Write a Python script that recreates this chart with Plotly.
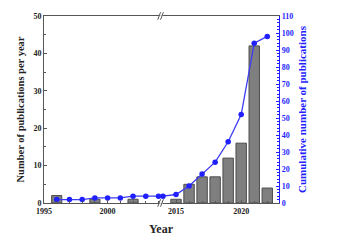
import plotly.graph_objects as go

# Data
years_early = [1996, 1999, 2002]
counts_early = [2, 1, 1]
years_late = [2015, 2016, 2017, 2018, 2019, 2020, 2021, 2022]
counts_late = [1, 5, 7, 7, 12, 16, 42, 4]
cum_years_early = [1996, 1997, 1998, 1999, 2000, 2001, 2002, 2003, 2004]
cum_early = [2, 2, 2, 3, 3, 3, 4, 4, 4]
cum_years_late = [2014, 2015, 2016, 2017, 2018, 2019, 2020, 2021, 2022]
cum_late = [4, 5, 10, 17, 24, 36, 52, 94, 98]

FONT = "Liberation Serif"
BLUE = "#1f1fff"
LINEBLUE = "#3c3cf5"
GRAY = "#7f7f7f"
SPLIT = 0.498

fig = go.Figure()
bar_style = dict(marker=dict(color=GRAY, line=dict(color="#4d4d4d", width=1)), width=0.8, showlegend=False)
fig.add_trace(go.Bar(x=years_early, y=counts_early, xaxis="x", yaxis="y", **bar_style))
fig.add_trace(go.Bar(x=years_late, y=counts_late, xaxis="x2", yaxis="y", **bar_style))
line_style = dict(mode="lines+markers", line=dict(color=LINEBLUE, width=1.3),
                  marker=dict(color=BLUE, size=5.5), showlegend=False, cliponaxis=False)
fig.add_trace(go.Scatter(x=cum_years_early, y=cum_early, xaxis="x", yaxis="y2", **line_style))
fig.add_trace(go.Scatter(x=cum_years_late, y=cum_late, xaxis="x2", yaxis="y2", **line_style))

tickfont = dict(family=FONT, size=8, color="#222222", weight="bold")
xcommon = dict(showline=True, linecolor="#555555", linewidth=1, mirror=True, ticks="inside",
               ticklen=3, tickcolor="#555555", dtick=5, showgrid=False, zeroline=False,
               tickfont=tickfont, minor=dict(dtick=1, ticks="inside", ticklen=2, tickcolor="#555555"))

fig.update_layout(
    width=359, height=241,
    margin=dict(l=44, r=80, t=12, b=38),
    paper_bgcolor="white", plot_bgcolor="white",
    bargap=0.2,
    xaxis=dict(domain=[0, SPLIT], range=[1995, 2004.2], tick0=1995, anchor="y", **xcommon),
    xaxis2=dict(domain=[SPLIT, 1], range=[2013.85, 2022.9], tick0=2015, anchor="y", **xcommon),
    yaxis=dict(range=[0, 50], dtick=10, showline=True, linecolor="#555555", linewidth=1,
               ticks="inside", ticklen=3, tickcolor="#555555", showgrid=False, zeroline=False,
               tickfont=tickfont, anchor="x",
               minor=dict(dtick=5, ticks="inside", ticklen=2, tickcolor="#555555"),
               title=dict(text="<b>Number of publications per year</b>",
                          font=dict(family=FONT, size=10.5, color="#222222"), standoff=6)),
    yaxis2=dict(range=[0, 110], dtick=10, overlaying="y", side="right", anchor="x2",
                showline=True, linecolor=BLUE, linewidth=1.2, ticks="inside", ticklen=3,
                tickcolor=BLUE, showgrid=False, zeroline=False,
                tickfont=dict(family=FONT, size=8, color=BLUE, weight="bold"),
                minor=dict(dtick=2, ticks="inside", ticklen=2, tickcolor=BLUE),
                title=dict(text="<b>Cumulative number of publications</b>",
                           font=dict(family=FONT, size=11, color=BLUE), standoff=5)),
    annotations=[dict(text="<b>Year</b>", x=0.5, y=-0.09, xref="paper", yref="paper",
                      xanchor="center", yanchor="top", showarrow=False,
                      font=dict(family=FONT, size=12, color="#222222"))],
)

# axis break marks
shapes = []
for yb in (0, 1):
    shapes.append(dict(type="rect", xref="paper", yref="paper", x0=SPLIT - 0.008, x1=SPLIT + 0.008,
                       y0=yb - 0.004, y1=yb + 0.004, fillcolor="white", line=dict(width=0)))
    for dx in (-0.008, 0.004):
        shapes.append(dict(type="line", xref="paper", yref="paper",
                           x0=SPLIT + dx - 0.006, x1=SPLIT + dx + 0.006,
                           y0=yb - 0.02, y1=yb + 0.02, line=dict(color="#555555", width=1)))
fig.update_layout(shapes=shapes)

fig.write_html("out.html")
